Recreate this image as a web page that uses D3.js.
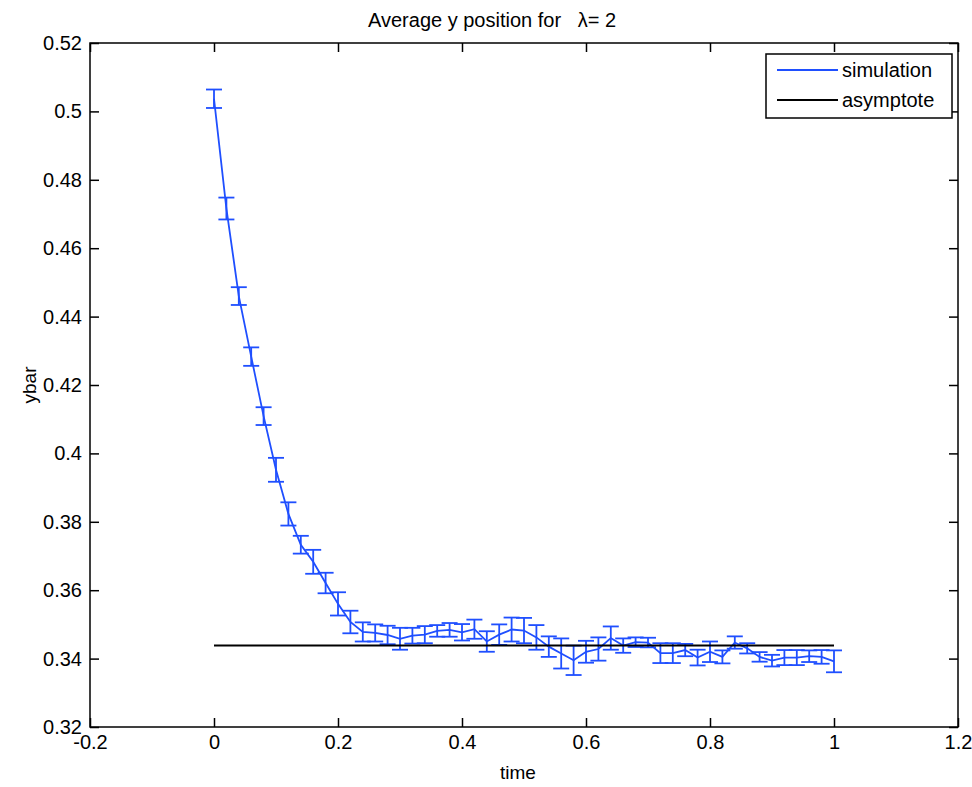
<!DOCTYPE html>
<html><head><meta charset="utf-8">
<script src="https://cdn.jsdelivr.net/npm/d3@7"></script>
<style>
html,body{margin:0;padding:0;background:#fff;}
text{font-family:"Liberation Sans",Arial,Helvetica,sans-serif;fill:#000;}
</style></head>
<body><svg id="chart" width="972" height="787"></svg>
<script>
const times = [0,0.02,0.04,0.06,0.08,0.10,0.12,0.14,0.16,0.18,0.20,0.22,0.24,0.26,0.28,0.30,0.32,0.34,0.36,0.38,0.40,0.42,0.44,0.46,0.48,0.50,0.52,0.54,0.56,0.58,0.60,0.62,0.64,0.66,0.68,0.70,0.72,0.74,0.76,0.78,0.80,0.82,0.84,0.86,0.88,0.90,0.92,0.94,0.96,0.98,1.00];
const ybar = [0.5037,0.4716,0.4460,0.4283,0.4109,0.3952,0.3823,0.3733,0.3683,0.3621,0.3560,0.3507,0.3478,0.3475,0.3469,0.3458,0.3467,0.3470,0.3481,0.3484,0.3477,0.3486,0.3450,0.3470,0.3485,0.3482,0.3462,0.3435,0.3415,0.3395,0.3420,0.3428,0.3460,0.3438,0.3448,0.3447,0.3416,0.3416,0.3425,0.3403,0.3420,0.3405,0.3447,0.3430,0.3405,0.3394,0.3403,0.3403,0.3407,0.3405,0.3392];
const errs = [0.0027,0.0032,0.0026,0.0027,0.0026,0.0035,0.0034,0.0026,0.0035,0.0030,0.0034,0.0033,0.0028,0.0025,0.0027,0.0032,0.0023,0.0025,0.0017,0.0020,0.0024,0.0028,0.0030,0.0030,0.0035,0.0037,0.0036,0.0030,0.0044,0.0043,0.0032,0.0034,0.0034,0.0021,0.0014,0.0014,0.0029,0.0029,0.0018,0.0023,0.0030,0.0019,0.0018,0.0015,0.0014,0.0017,0.0022,0.0022,0.0017,0.0020,0.0032];
const asymptote = 0.3438;
const asymX = [0, 1];
const xTicks = [-0.2,0,0.2,0.4,0.6,0.8,1,1.2];
const xTickLabels = ["-0.2","0","0.2","0.4","0.6","0.8","1","1.2"];
const yTicks = [0.32,0.34,0.36,0.38,0.40,0.42,0.44,0.46,0.48,0.50,0.52];
const yTickLabels = ["0.32","0.34","0.36","0.38","0.4","0.42","0.44","0.46","0.48","0.5","0.52"];
const titleText = "Average y position for   \u03bb= 2";
const legendLabels = ["simulation","asymptote"];

const blue = "#1f4fff";
const L=90, R=958, T=43, B=727;
const svg = d3.select("#chart");
const x = d3.scaleLinear().domain([-0.2,1.2]).range([L,R]);
const y = d3.scaleLinear().domain([0.32,0.52]).range([B,T]);
const data = times.map((t,i)=>({t, v:ybar[i], e:errs[i]}));

// frame
svg.append("rect").attr("x",L).attr("y",T).attr("width",R-L).attr("height",B-T)
  .attr("fill","none").attr("stroke","#000").attr("stroke-width",1.5);

const tl = 9;
const axB = svg.append("g").attr("transform",`translate(0,${B})`)
  .call(d3.axisBottom(x).tickValues(xTicks).tickFormat((d,i)=>xTickLabels[i]).tickSizeInner(-tl).tickSizeOuter(0).tickPadding(5));
const axT = svg.append("g").attr("transform",`translate(0,${T})`)
  .call(d3.axisTop(x).tickValues(xTicks).tickFormat("").tickSizeInner(-tl).tickSizeOuter(0));
const axL = svg.append("g").attr("transform",`translate(${L},0)`)
  .call(d3.axisLeft(y).tickValues(yTicks).tickFormat((d,i)=>yTickLabels[i]).tickSizeInner(-tl).tickSizeOuter(0).tickPadding(8));
const axR = svg.append("g").attr("transform",`translate(${R},0)`)
  .call(d3.axisRight(y).tickValues(yTicks).tickFormat("").tickSizeInner(-tl).tickSizeOuter(0));
[axB,axT,axL,axR].forEach(g=>{
  g.select(".domain").remove();
  g.selectAll(".tick line").attr("stroke","#000").attr("stroke-width",1.5);
  g.selectAll("text").attr("font-size",20).attr("font-family","Liberation Sans, Arial, sans-serif").attr("fill","#000");
});
axB.selectAll("text").attr("dy","0.71em").attr("y",8);

// error bars
const cw = 8;
const eb = svg.append("g").attr("stroke",blue).attr("stroke-width",1.8).attr("fill","none");
data.forEach(d=>{
  const cx = x(d.t), y1 = y(d.v-d.e), y2 = y(d.v+d.e);
  eb.append("line").attr("x1",cx).attr("x2",cx).attr("y1",y1).attr("y2",y2);
  eb.append("line").attr("x1",cx-cw).attr("x2",cx+cw).attr("y1",y1).attr("y2",y1);
  eb.append("line").attr("x1",cx-cw).attr("x2",cx+cw).attr("y1",y2).attr("y2",y2);
});
svg.append("path").datum(data)
  .attr("d",d3.line().x(d=>x(d.t)).y(d=>y(d.v)))
  .attr("fill","none").attr("stroke",blue).attr("stroke-width",1.8);

// asymptote
svg.append("line").attr("x1",x(asymX[0])).attr("x2",x(asymX[1]))
  .attr("y1",y(asymptote)).attr("y2",y(asymptote))
  .attr("stroke","#000").attr("stroke-width",2);

// title and labels
svg.append("text").attr("x",368).attr("y",27).attr("font-size",20)
  .style("white-space","pre").text(titleText);
svg.append("text").attr("x",(L+R)/2-6).attr("y",779).attr("text-anchor","middle").attr("font-size",19).text("time");
svg.append("text").attr("transform",`translate(36,${(T+B)/2}) rotate(-90)`).attr("text-anchor","middle").attr("font-size",19).text("ybar");

// legend
const lg = svg.append("g");
lg.append("rect").attr("x",766).attr("y",54).attr("width",186).attr("height",64)
  .attr("fill","#fff").attr("stroke","#000").attr("stroke-width",1.5);
const lcol = [blue,"#000"];
legendLabels.forEach((lab,i)=>{
  const yy = 70 + i*30;
  lg.append("line").attr("x1",777).attr("x2",838).attr("y1",yy).attr("y2",yy)
    .attr("stroke",lcol[i]).attr("stroke-width",1.8);
  lg.append("text").attr("x",842).attr("y",yy+7).attr("font-size",20).text(lab);
});
</script></body></html>
